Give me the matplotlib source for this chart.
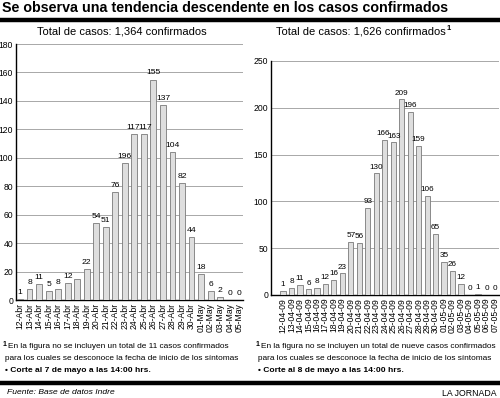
import matplotlib
matplotlib.use("Agg")
import matplotlib.pyplot as plt
import numpy as np

plt.rcParams['font.family'] = ['Liberation Sans', 'DejaVu Sans']

# ---- data ----
left_dates = ["12-Abr", "13-Abr", "14-Abr", "15-Abr", "16-Abr", "17-Abr", "18-Abr",
              "19-Abr", "20-Abr", "21-Abr", "22-Abr", "23-Abr", "24-Abr", "25-Abr",
              "26-Abr", "27-Abr", "28-Abr", "29-Abr", "30-Abr", "01-May", "02-May",
              "03-May", "04-May", "05-May"]
left_values = [1, 8, 11, 6, 8, 12, 15, 22, 54, 51, 76, 96, 117, 117, 155, 137, 104, 82,
               44, 18, 6, 2, 0, 0]
left_labels = ["1", "8", "11", "5", "8", "12", "", "22", "54", "51", "76", "196", "117",
               "117", "155", "137", "104", "82", "44", "18", "6", "2", "0", "0"]

right_dates = ["12-04-09", "13-04-09", "14-04-09", "15-04-09", "16-04-09", "17-04-09",
               "18-04-09", "19-04-09", "20-04-09", "21-04-09", "22-04-09", "23-04-09",
               "24-04-09", "25-04-09", "26-04-09", "27-04-09", "28-04-09", "29-04-09",
               "30-04-09", "01-05-09", "02-05-09", "03-05-09", "04-05-09", "05-05-09",
               "06-05-09", "07-05-09"]
right_values = [4, 8, 11, 6, 8, 12, 16, 23, 57, 56, 93, 130, 166, 163, 209, 196, 159, 106,
                65, 35, 26, 12, 0, 1, 0, 0]
right_labels = ["1", "8", "11", "6", "8", "12", "16", "23", "57", "56", "93", "130", "166",
                "163", "209", "196", "159", "106", "65", "35", "26", "12", "0", "1", "0", "0"]

W, H = 500, 398
fig = plt.figure(figsize=(W / 100, H / 100), dpi=100)


def ax_at(x0, y0, x1, y1):
    return fig.add_axes([x0 / W, 1 - y1 / H, (x1 - x0) / W, (y1 - y0) / H])


def fx(x):
    return x / W


def fy(y):
    return 1 - y / H


bar_face = "#dedede"
bar_edge = "#7a7a7a"
grid_c = "#9a9a9a"


def draw(ax, dates, values, labels, ymax, ystep, xlim, lab_fs):
    x = np.arange(len(values))
    ax.bar(x, values, width=0.62, color=bar_face, edgecolor=bar_edge, linewidth=0.6, zorder=3)
    ax.set_xlim(*xlim)
    ax.set_ylim(0, ymax)
    ax.set_yticks(np.arange(0, ymax + 1, ystep))
    ax.yaxis.grid(True, color=grid_c, linewidth=0.6, zorder=0)
    ax.set_axisbelow(True)
    ax.set_xticks(x)
    ax.set_xticklabels(dates, rotation=90, fontsize=6.2)
    ax.tick_params(axis='y', labelsize=6.2, length=0, pad=2)
    ax.tick_params(axis='x', length=0, pad=2)
    for s in ["top", "right"]:
        ax.spines[s].set_visible(False)
    ax.spines["left"].set_linewidth(1.0)
    ax.spines["bottom"].set_linewidth(1.0)
    n = len(values)
    for i, (xi, v, lab) in enumerate(zip(x, values, labels)):
        if not lab:
            continue
        dx = 0.0
        # nudge 3-digit labels apart when a neighbour sits at a similar height
        if len(lab) == 3:
            if i + 1 < n and len(labels[i + 1]) == 3 and abs(values[i + 1] - v) < ymax * 0.05:
                dx -= 0.17
            if i > 0 and len(labels[i - 1]) == 3 and abs(values[i - 1] - v) < ymax * 0.05:
                dx += 0.17
        ax.text(xi + dx, v + ymax * 0.012, lab, ha='center', va='bottom',
                fontsize=lab_fs, zorder=4)


axL = ax_at(16, 44, 243, 300)
draw(axL, left_dates, left_values, left_labels, 180, 20, (-0.42, 23.4), 6.1)

axR = ax_at(271, 61, 499, 295)
draw(axR, right_dates, right_values, right_labels, 250, 50, (-1.41, 25.47), 5.9)

# Title and rules
fig.text(fx(2), fy(8), "Se observa una tendencia descendente en los casos confirmados",
         fontsize=10.3, fontweight='bold', ha='left', va='center')
fig.add_artist(plt.Line2D([0, 1], [fy(20), fy(20)], color='black', linewidth=3.2))
fig.add_artist(plt.Line2D([0, 1], [fy(383), fy(383)], color='black', linewidth=3.2))

fig.text(fx(122), fy(32), "Total de casos: 1,364 confirmados", fontsize=8,
         ha='center', va='center')
fig.text(fx(446), fy(32), "Total de casos: 1,626 confirmados", fontsize=8,
         ha='right', va='center')
fig.text(fx(447), fy(29), "1", fontsize=5.5, fontweight='bold', ha='left', va='center')

# Footnotes
def footnote(x, line1, cut):
    fig.text(fx(x), fy(345), "1", fontsize=5, fontweight='bold', ha='left', va='center')
    fig.text(fx(x + 5), fy(347), line1, fontsize=5.95, ha='left', va='center')
    fig.text(fx(x + 2), fy(358), "para los cuales se desconoce la fecha de inicio de los síntomas",
             fontsize=5.95, ha='left', va='center')
    fig.text(fx(x + 2), fy(370), cut, fontsize=6.1, fontweight='bold', ha='left', va='center')


footnote(3, "En la figura no se incluyen un total de 11 casos confirmados",
         "• Corte al 7 de mayo a las 14:00 hrs.")
footnote(256, "En la figura no se incluyen un total de nueve casos confirmados",
         "• Corte al 8 de mayo a las 14:00 hrs.")

fig.text(fx(7), fy(393), "Fuente: Base de datos Indre", fontsize=6.1, style='italic',
         ha='left', va='center')
fig.text(fx(497), fy(393), "LA JORNADA", fontsize=6.3, ha='right', va='center')

fig.savefig("out.png", dpi=100)
